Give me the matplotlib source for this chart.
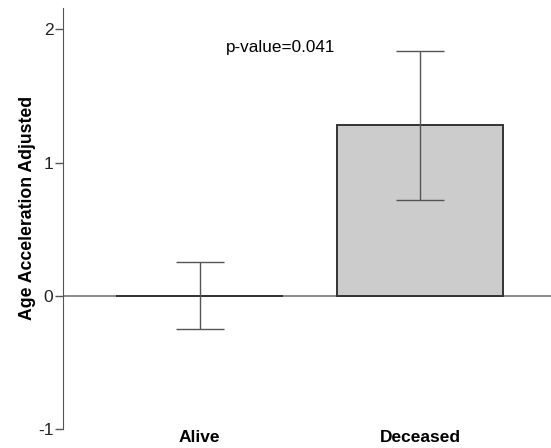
import numpy as np
import matplotlib.pyplot as plt

plt.rcParams['font.family'] = ['Liberation Sans', 'DejaVu Sans']
plt.rcParams['axes.unicode_minus'] = False

groups = ['Alive', 'Deceased']
means = [0.0, 1.28]
errors = [0.25, 0.56]
p_text = 'p-value=0.041'

fig = plt.figure(figsize=(5.51, 4.48), dpi=100)
ax = fig.add_axes([0.1143, 0.0424, 0.8857, 0.9396])

x = np.arange(len(groups))
ax.axhline(0, color='#777777', lw=1.2, zorder=1)
ax.bar(x, means, width=0.755, color='#cccccc', edgecolor='#333333',
       linewidth=1.4, zorder=2)
ax.errorbar(x, means, yerr=errors, fmt='none', ecolor='#555555',
            elinewidth=1.0, capsize=17, capthick=1.0, zorder=3)

ax.text(0.366, 1.865, p_text, ha='center', va='center', fontsize=12.3)

ax.set_xlim(-0.62, 1.595)
ax.set_ylim(-1, 2.16)
ax.set_yticks([-1, 0, 1, 2])
ax.set_xticks(x)
ax.set_xticklabels(groups, fontweight='bold', fontsize=12.5)
ax.tick_params(axis='x', length=0, pad=1)
ax.tick_params(axis='y', direction='out', length=6, width=1, color='#555555',
               labelsize=12.5, labelcolor='#222222', pad=1)

for side in ['top', 'right', 'bottom']:
    ax.spines[side].set_visible(False)
ax.spines['left'].set_color('#555555')
ax.spines['left'].set_bounds(-1, 2.16)

ax.set_ylabel('Age Acceleration Adjusted', fontweight='bold', fontsize=12.7)
ax.yaxis.set_label_coords(-0.056, 0.525)

fig.savefig('out.png', dpi=100)
